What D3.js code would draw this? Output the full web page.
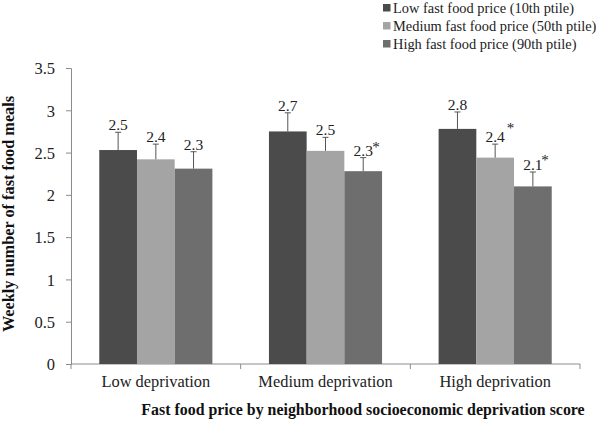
<!DOCTYPE html>
<html><head><meta charset="utf-8">
<script src="https://cdn.jsdelivr.net/npm/d3@7"></script>
<style>body{margin:0;background:#fff}svg{display:block}</style>
</head><body>
<script>
const categories = ["Low deprivation", "Medium deprivation", "High deprivation"];
const seriesNames = ["Low fast food price (10th ptile)", "Medium fast food price (50th ptile)", "High fast food price (90th ptile)"];
const lowPrice = [2.53, 2.75, 2.78];
const medPrice = [2.42, 2.52, 2.44];
const highPrice = [2.31, 2.28, 2.10];
const lowErr = [2.74, 2.97, 2.98];
const medErr = [2.60, 2.68, 2.60];
const highErr = [2.51, 2.44, 2.27];
const lowLabels = ["2.5", "2.7", "2.8"];
const medLabels = ["2.4", "2.5", "2.4"];
const highLabels = ["2.3", "2.3", "2.1"];
const lowStar = [false, false, false];
const medStar = [false, false, true];
const highStar = [false, true, true];
const yTicks = [0, 0.5, 1, 1.5, 2, 2.5, 3, 3.5];
const colors = ["#4b4b4b", "#a4a4a4", "#6e6e6e"];

const FONT = '"Liberation Serif","Times New Roman",serif';
const series = [
  {name: seriesNames[0], values: lowPrice, err: lowErr, labels: lowLabels, star: lowStar},
  {name: seriesNames[1], values: medPrice, err: medErr, labels: medLabels, star: medStar},
  {name: seriesNames[2], values: highPrice, err: highErr, labels: highLabels, star: highStar}
];
// asterisk placement tweaks (layout only), keyed "series-category"
const starOffset = {"2-1": [9, 6], "1-2": [11.5, 11], "2-2": [8.5, 7.5]};

const W = 600, H = 424;
const svg = d3.select("body").append("svg").attr("width", W).attr("height", H)
  .attr("font-family", FONT);
const x0 = d3.scaleBand().domain(categories).range([71, 580]).paddingInner(0).paddingOuter(0);
const x1 = d3.scaleBand().domain([0,1,2]).range([0, x0.bandwidth()]).paddingInner(0).paddingOuter(0.75);
const y = d3.scaleLinear().domain([0, 3.5]).range([364, 68]);

// y axis
const yAxis = d3.axisLeft(y).tickValues(yTicks).tickFormat(d3.format("")).tickSize(5).tickPadding(11);
const ga = svg.append("g").attr("transform", "translate(71,0)").call(yAxis);
ga.attr("font-family", FONT);
ga.select(".domain").attr("stroke", "#8c8c8c");
ga.selectAll(".tick line").attr("stroke", "#8c8c8c");
ga.selectAll(".tick text").attr("font-size", 16.5).attr("fill", "#222").attr("dy", "0.35em");

// x axis
const xg = svg.append("g").attr("transform", "translate(0,364)");
xg.append("line").attr("x1", 71).attr("x2", 580).attr("stroke", "#8c8c8c");
const xTickPos = categories.map(c => x0(c)).concat([x0.range()[1]]);
xg.selectAll("line.t").data(xTickPos).join("line").attr("class","t")
  .attr("x1", d => d).attr("x2", d => d).attr("y1", 0).attr("y2", 5).attr("stroke", "#8c8c8c");
xg.selectAll("text").data(categories).join("text")
  .attr("x", d => x0(d) + x0.bandwidth()/2).attr("y", 23)
  .attr("text-anchor", "middle").attr("font-size", 16.4).attr("fill", "#222").text(d => d);

// bars
series.forEach((s, si) => {
  const g = svg.append("g");
  categories.forEach((c, ci) => {
    const bx = x0(c) + x1(si), bw = x1.bandwidth(), cx = bx + bw/2;
    g.append("rect").attr("x", bx).attr("width", bw).attr("y", y(s.values[ci]))
      .attr("height", y(0) - y(s.values[ci])).attr("fill", colors[si]);
    g.append("line").attr("x1", cx).attr("x2", cx).attr("y1", y(s.values[ci])).attr("y2", y(s.err[ci]))
      .attr("stroke", "#555").attr("stroke-width", 1);
    g.append("line").attr("x1", cx - 3).attr("x2", cx + 3).attr("y1", y(s.err[ci])).attr("y2", y(s.err[ci]))
      .attr("stroke", "#555").attr("stroke-width", 1);
    g.append("text").attr("x", cx).attr("y", y(s.err[ci]) - 2)
      .attr("text-anchor", "middle").attr("font-size", 15.5).attr("fill", "#222").text(s.labels[ci]);
    if (s.star[ci]) {
      const off = starOffset[si + "-" + ci] || [10, 6];
      g.append("text").attr("x", cx + off[0]).attr("y", y(s.err[ci]) - off[1])
        .attr("font-size", 15).attr("fill", "#222").text("*");
    }
  });
});

// axis titles
svg.append("text").attr("transform", "translate(14,214) rotate(-90)").attr("text-anchor", "middle")
  .attr("font-size", 16.3).attr("font-weight", "bold").attr("fill", "#111").text("Weekly number of fast food meals");
svg.append("text").attr("x", 363).attr("y", 415).attr("text-anchor", "middle")
  .attr("font-size", 15.9).attr("font-weight", "bold").attr("fill", "#111")
  .text("Fast food price by neighborhood socioeconomic deprivation score");

// legend
const lg = svg.append("g");
seriesNames.forEach((n, i) => {
  const base = 13 + i * 18;
  lg.append("rect").attr("x", 383).attr("y", base - 9).attr("width", 7.5).attr("height", 7.5).attr("fill", colors[i]);
  lg.append("text").attr("x", 393).attr("y", base).attr("font-size", 14.4).attr("fill", "#222").text(n);
});
</script>
</body></html>
